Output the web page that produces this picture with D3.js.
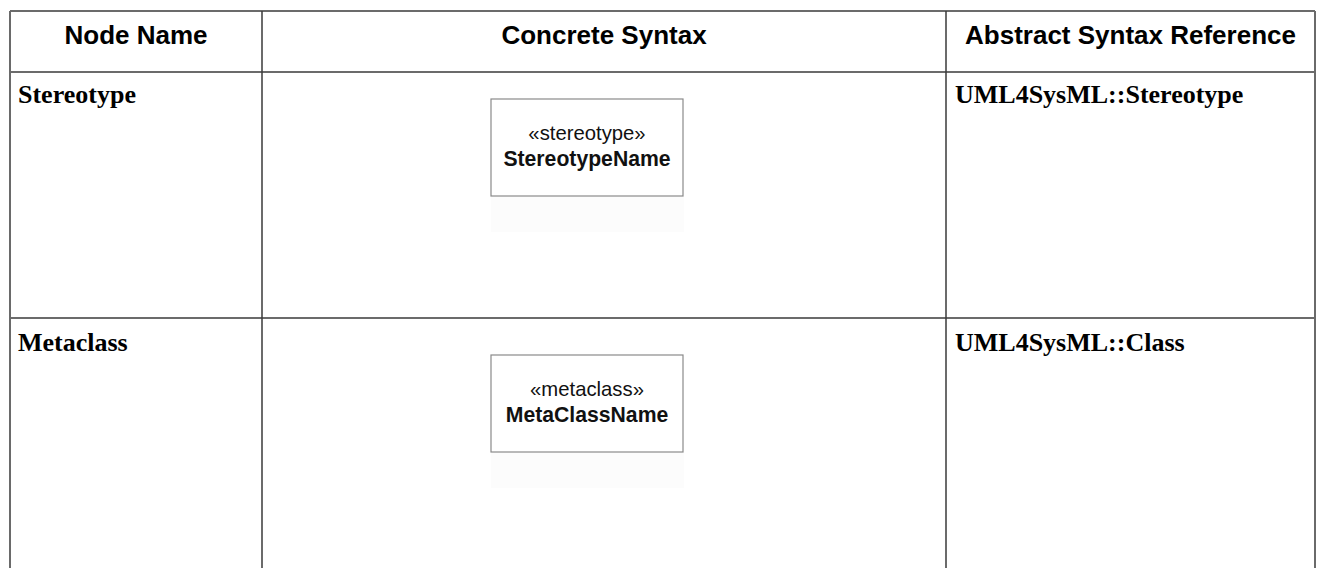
<!DOCTYPE html>
<html>
<head>
<meta charset="utf-8">
<script src="https://cdnjs.cloudflare.com/ajax/libs/d3/7.8.5/d3.min.js"></script>
<style>
  html, body { margin: 0; padding: 0; background: #fff; }
  svg { display: block; }
</style>
</head>
<body>
<svg id="chart" width="1319" height="568"></svg>
<script>
// ---- data ----
const headers = ["Node Name", "Concrete Syntax", "Abstract Syntax Reference"];
const nodeNames = ["Stereotype", "Metaclass"];
const keywords = ["«stereotype»", "«metaclass»"];
const elementNames = ["StereotypeName", "MetaClassName"];
const abstractRefs = ["UML4SysML::Stereotype", "UML4SysML::Class"];

// ---- layout ----
const colEdges = [10, 262, 946, 1315];
const rowEdges = [11, 72, 318, 620];
const svg = d3.select("#chart");
const lineColor = "#3a3a3a";

const x = d3.scaleOrdinal().domain(d3.range(4)).range(colEdges);
const y = d3.scaleOrdinal().domain(d3.range(4)).range(rowEdges);

// shadows + boxes
const box = { dx: 229, w: 192, h: 97 };
const rows = d3.range(nodeNames.length);
const boxTop = [99, 355];

const g = svg.append("g");

rows.forEach(i => {
  const bx = x(1) + box.dx, by = boxTop[i];
  g.append("rect").attr("x", bx).attr("y", by + box.h)
    .attr("width", box.w + 1).attr("height", 36).attr("fill", "#fcfcfc");
  g.append("rect").attr("x", bx).attr("y", by).attr("width", box.w).attr("height", box.h)
    .attr("fill", "#fff").attr("stroke", "#8a8a8a").attr("stroke-width", 1.2);
  g.append("text").attr("x", bx + box.w / 2).attr("y", by + 41)
    .attr("text-anchor", "middle").attr("font-family", "Liberation Sans, Arial, sans-serif")
    .attr("font-size", 20.3).attr("fill", "#111").text(keywords[i]);
  g.append("text").attr("x", bx + box.w / 2).attr("y", by + 67)
    .attr("text-anchor", "middle").attr("font-family", "Liberation Sans, Arial, sans-serif")
    .attr("font-weight", "bold").attr("font-size", 21.2).attr("fill", "#111").text(elementNames[i]);
});

// headers
headers.forEach((h, j) => {
  svg.append("text").attr("x", (x(j) + x(j + 1)) / 2).attr("y", 44)
    .attr("text-anchor", "middle").attr("font-family", "Liberation Sans, Arial, sans-serif")
    .attr("font-weight", "bold").attr("font-size", 26).attr("fill", "#000").text(h);
});

// body text
const baseOff = [31, 33];
rows.forEach(i => {
  const by = y(i + 1) + baseOff[i];
  svg.append("text").attr("x", x(0) + 8).attr("y", by)
    .attr("font-family", "Liberation Serif, 'Times New Roman', serif")
    .attr("font-weight", "bold").attr("font-size", 26).attr("fill", "#000").text(nodeNames[i]);
  svg.append("text").attr("x", x(2) + 9).attr("y", by)
    .attr("font-family", "Liberation Serif, 'Times New Roman', serif")
    .attr("font-weight", "bold").attr("font-size", 26).attr("fill", "#000").text(abstractRefs[i]);
});

// grid lines
[0, 1, 2].forEach(r => {
  svg.append("line").attr("x1", colEdges[0]).attr("x2", colEdges[3])
    .attr("y1", y(r)).attr("y2", y(r)).attr("stroke", lineColor).attr("stroke-width", 1.5);
});
colEdges.forEach((cx, j) => {
  svg.append("line").attr("x1", cx).attr("x2", cx)
    .attr("y1", rowEdges[0]).attr("y2", 568)
    .attr("stroke", (j === 0 || j === 3) ? "#6a6a6a" : lineColor)
    .attr("stroke-width", (j === 0 || j === 3) ? 2 : 1.5);
});
</script>
</body>
</html>
